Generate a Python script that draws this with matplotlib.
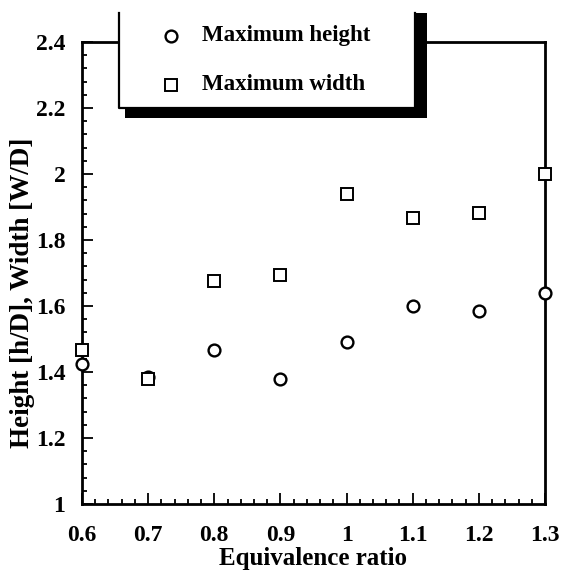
import matplotlib
matplotlib.use('Agg')
import matplotlib.pyplot as plt
from matplotlib.patches import Rectangle
from matplotlib.lines import Line2D
from matplotlib.ticker import MultipleLocator

# Data
phi = [0.6, 0.7, 0.8, 0.9, 1.0, 1.1, 1.2, 1.3]
max_height = [1.425, 1.385, 1.466, 1.378, 1.491, 1.600, 1.586, 1.639]
max_width = [1.466, 1.378, 1.676, 1.693, 1.940, 1.867, 1.882, 2.000]
legend_labels = ['Maximum height', 'Maximum width']

plt.rcParams['font.family'] = ['Liberation Serif', 'DejaVu Serif']
plt.rcParams['font.weight'] = 'bold'

W, H = 561, 577
fig = plt.figure(figsize=(W / 100, H / 100), dpi=100)

def fx(x):
    return x / W

def fy(y):
    return 1 - y / H

# axes box: left 82, right 545, top 42, bottom 504 (pixels)
ax = fig.add_axes([fx(82), fy(504), (545 - 82) / W, (504 - 42) / H])

ax.plot(phi, max_height, linestyle='none', marker='o', markersize=8.5,
        markerfacecolor='white', markeredgecolor='black', markeredgewidth=1.7,
        clip_on=False, zorder=5)
ax.plot(phi, max_width, linestyle='none', marker='s', markersize=9,
        markerfacecolor='white', markeredgecolor='black', markeredgewidth=1.4,
        clip_on=False, zorder=5)

ax.set_xlim(0.6, 1.3)
ax.set_ylim(1.0, 2.4)
ax.xaxis.set_minor_locator(MultipleLocator(0.02))
ax.yaxis.set_minor_locator(MultipleLocator(0.04))
ax.set_xticks(phi)
ax.set_xticklabels(['0.6', '0.7', '0.8', '0.9', '1', '1.1', '1.2', '1.3'])
ax.set_yticks([1.0, 1.2, 1.4, 1.6, 1.8, 2.0, 2.2, 2.4])
ax.set_yticklabels(['1', '1.2', '1.4', '1.6', '1.8', '2', '2.2', '2.4'])

ax.tick_params(which='both', direction='in', top=False, right=False,
               labelsize=17, width=1.3)
ax.tick_params(axis='x', pad=15)
ax.tick_params(axis='y', pad=12)
ax.tick_params(which='major', length=8)
ax.tick_params(which='minor', length=3.5)
for s in ax.spines.values():
    s.set_linewidth(2)

ax.set_xlabel('Equivalence ratio', fontsize=18, fontweight='bold', va='center')
ax.xaxis.set_label_coords((313 - 82) / 463, (504 - 559) / 462)
ax.set_ylabel('Height [h/D], Width [W/D]', fontsize=19.5, fontweight='bold',
              va='center')
ax.yaxis.set_label_coords((23 - 82) / 463, (504 - 293) / 462)

# legend box with drop shadow, open at the top
fig.patches.append(Rectangle((fx(125), fy(118)), (427 - 125) / W, (118 - 13) / H,
                             transform=fig.transFigure, facecolor='black',
                             edgecolor='none', zorder=10))
fig.patches.append(Rectangle((fx(119), fy(108)), (415 - 119) / W, (108 - 13) / H,
                             transform=fig.transFigure, facecolor='white',
                             edgecolor='none', zorder=11))
fig.lines.append(Line2D([fx(119), fx(119), fx(415), fx(415)],
                        [fy(13), fy(108), fy(108), fy(13)], color='black',
                        linewidth=1.6, transform=fig.transFigure, zorder=12))

rows = [(36, 'o', 8.5, 1.7), (85, 's', 9, 1.4)]
for (py, mk, ms, mew), label in zip(rows, legend_labels):
    fig.lines.append(Line2D([fx(171)], [fy(py)], marker=mk, markersize=ms,
                            markerfacecolor='white', markeredgecolor='black',
                            markeredgewidth=mew, transform=fig.transFigure,
                            zorder=13))
    fig.text(fx(202), fy(py), label, fontsize=16.5, fontweight='bold',
             va='center', ha='left', zorder=13)

fig.savefig('out.png', dpi=100)
